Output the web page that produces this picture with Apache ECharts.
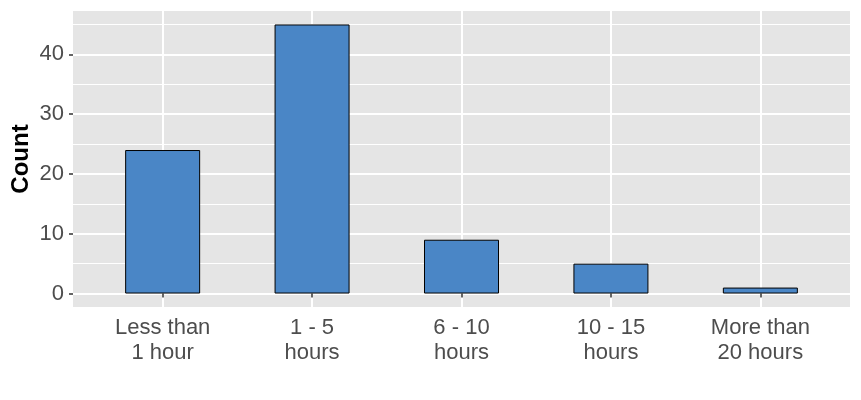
<!DOCTYPE html>
<html>
<head>
<meta charset="utf-8">
<script src="https://cdn.jsdelivr.net/npm/echarts@6/dist/echarts.min.js"></script>
<style>
  html, body { margin: 0; padding: 0; background: #fff; }
  #chart { width: 861px; height: 400px; }
</style>
</head>
<body>
<div id="chart"></div>
<script>
// data
var categories = ['Less than\n1 hour', '1 - 5\nhours', '6 - 10\nhours', '10 - 15\nhours', 'More than\n20 hours'];
var counts = [24, 45, 9, 5, 1];
var yMajor = [0, 10, 20, 30, 40];
var yMinor = [5, 15, 25, 35, 45];

var positions = categories.map(function (c, i) { return i + 1; });
var barData = counts.map(function (v, i) { return [positions[i], v]; });

var font = '"Liberation Sans", Arial, Helvetica, sans-serif';
var chart = echarts.init(document.getElementById('chart'));

chart.setOption({
  animation: false,
  textStyle: { fontFamily: font },
  grid: {
    left: 73, right: 11, top: 11, bottom: 93,
    outerBoundsMode: 'none',
    containLabel: false,
    show: true, backgroundColor: '#E5E5E5', borderWidth: 0
  },
  xAxis: {
    type: 'value',
    min: 0.4, max: 5.6,
    axisLine: { show: false },
    axisTick: { show: true, length: 4, customValues: positions, lineStyle: { color: '#333333', width: 1.5 } },
    axisLabel: {
      customValues: positions,
      margin: 8,
      fontSize: 22, lineHeight: 25, color: '#4D4D4D', fontFamily: font,
      formatter: function (v) { return categories[Math.round(v) - 1] || ''; }
    },
    splitLine: { show: true, lineStyle: { color: '#FFFFFF', width: 2 } }
  },
  yAxis: [{
    type: 'value',
    min: -2.25, max: 47.25,
    name: 'Count',
    nameLocation: 'middle',
    nameRotate: 90,
    nameGap: 40,
    nameMoveOverlap: false,
    nameTextStyle: { fontSize: 24, fontWeight: 'bold', color: '#000', fontFamily: font },
    axisLine: { show: false },
    axisTick: { show: true, length: 4, customValues: yMajor, lineStyle: { color: '#333333', width: 1.5 } },
    axisLabel: { customValues: yMajor, margin: 9, fontSize: 22, color: '#4D4D4D', fontFamily: font },
    splitLine: { show: true, lineStyle: { color: '#FFFFFF', width: 2 } }
  }, {
    type: 'value',
    min: -2.25, max: 47.25,
    position: 'left',
    axisLine: { show: false },
    axisTick: { show: false, customValues: yMinor },
    axisLabel: { show: false, customValues: yMinor },
    splitLine: { show: true, lineStyle: { color: '#FFFFFF', width: 1 } }
  }],
  series: [{
    type: 'bar',
    yAxisIndex: 0,
    data: barData,
    barWidth: 75,
    itemStyle: { color: '#4A86C6', borderColor: '#000000', borderWidth: 1 }
  }]
});
</script>
</body>
</html>
